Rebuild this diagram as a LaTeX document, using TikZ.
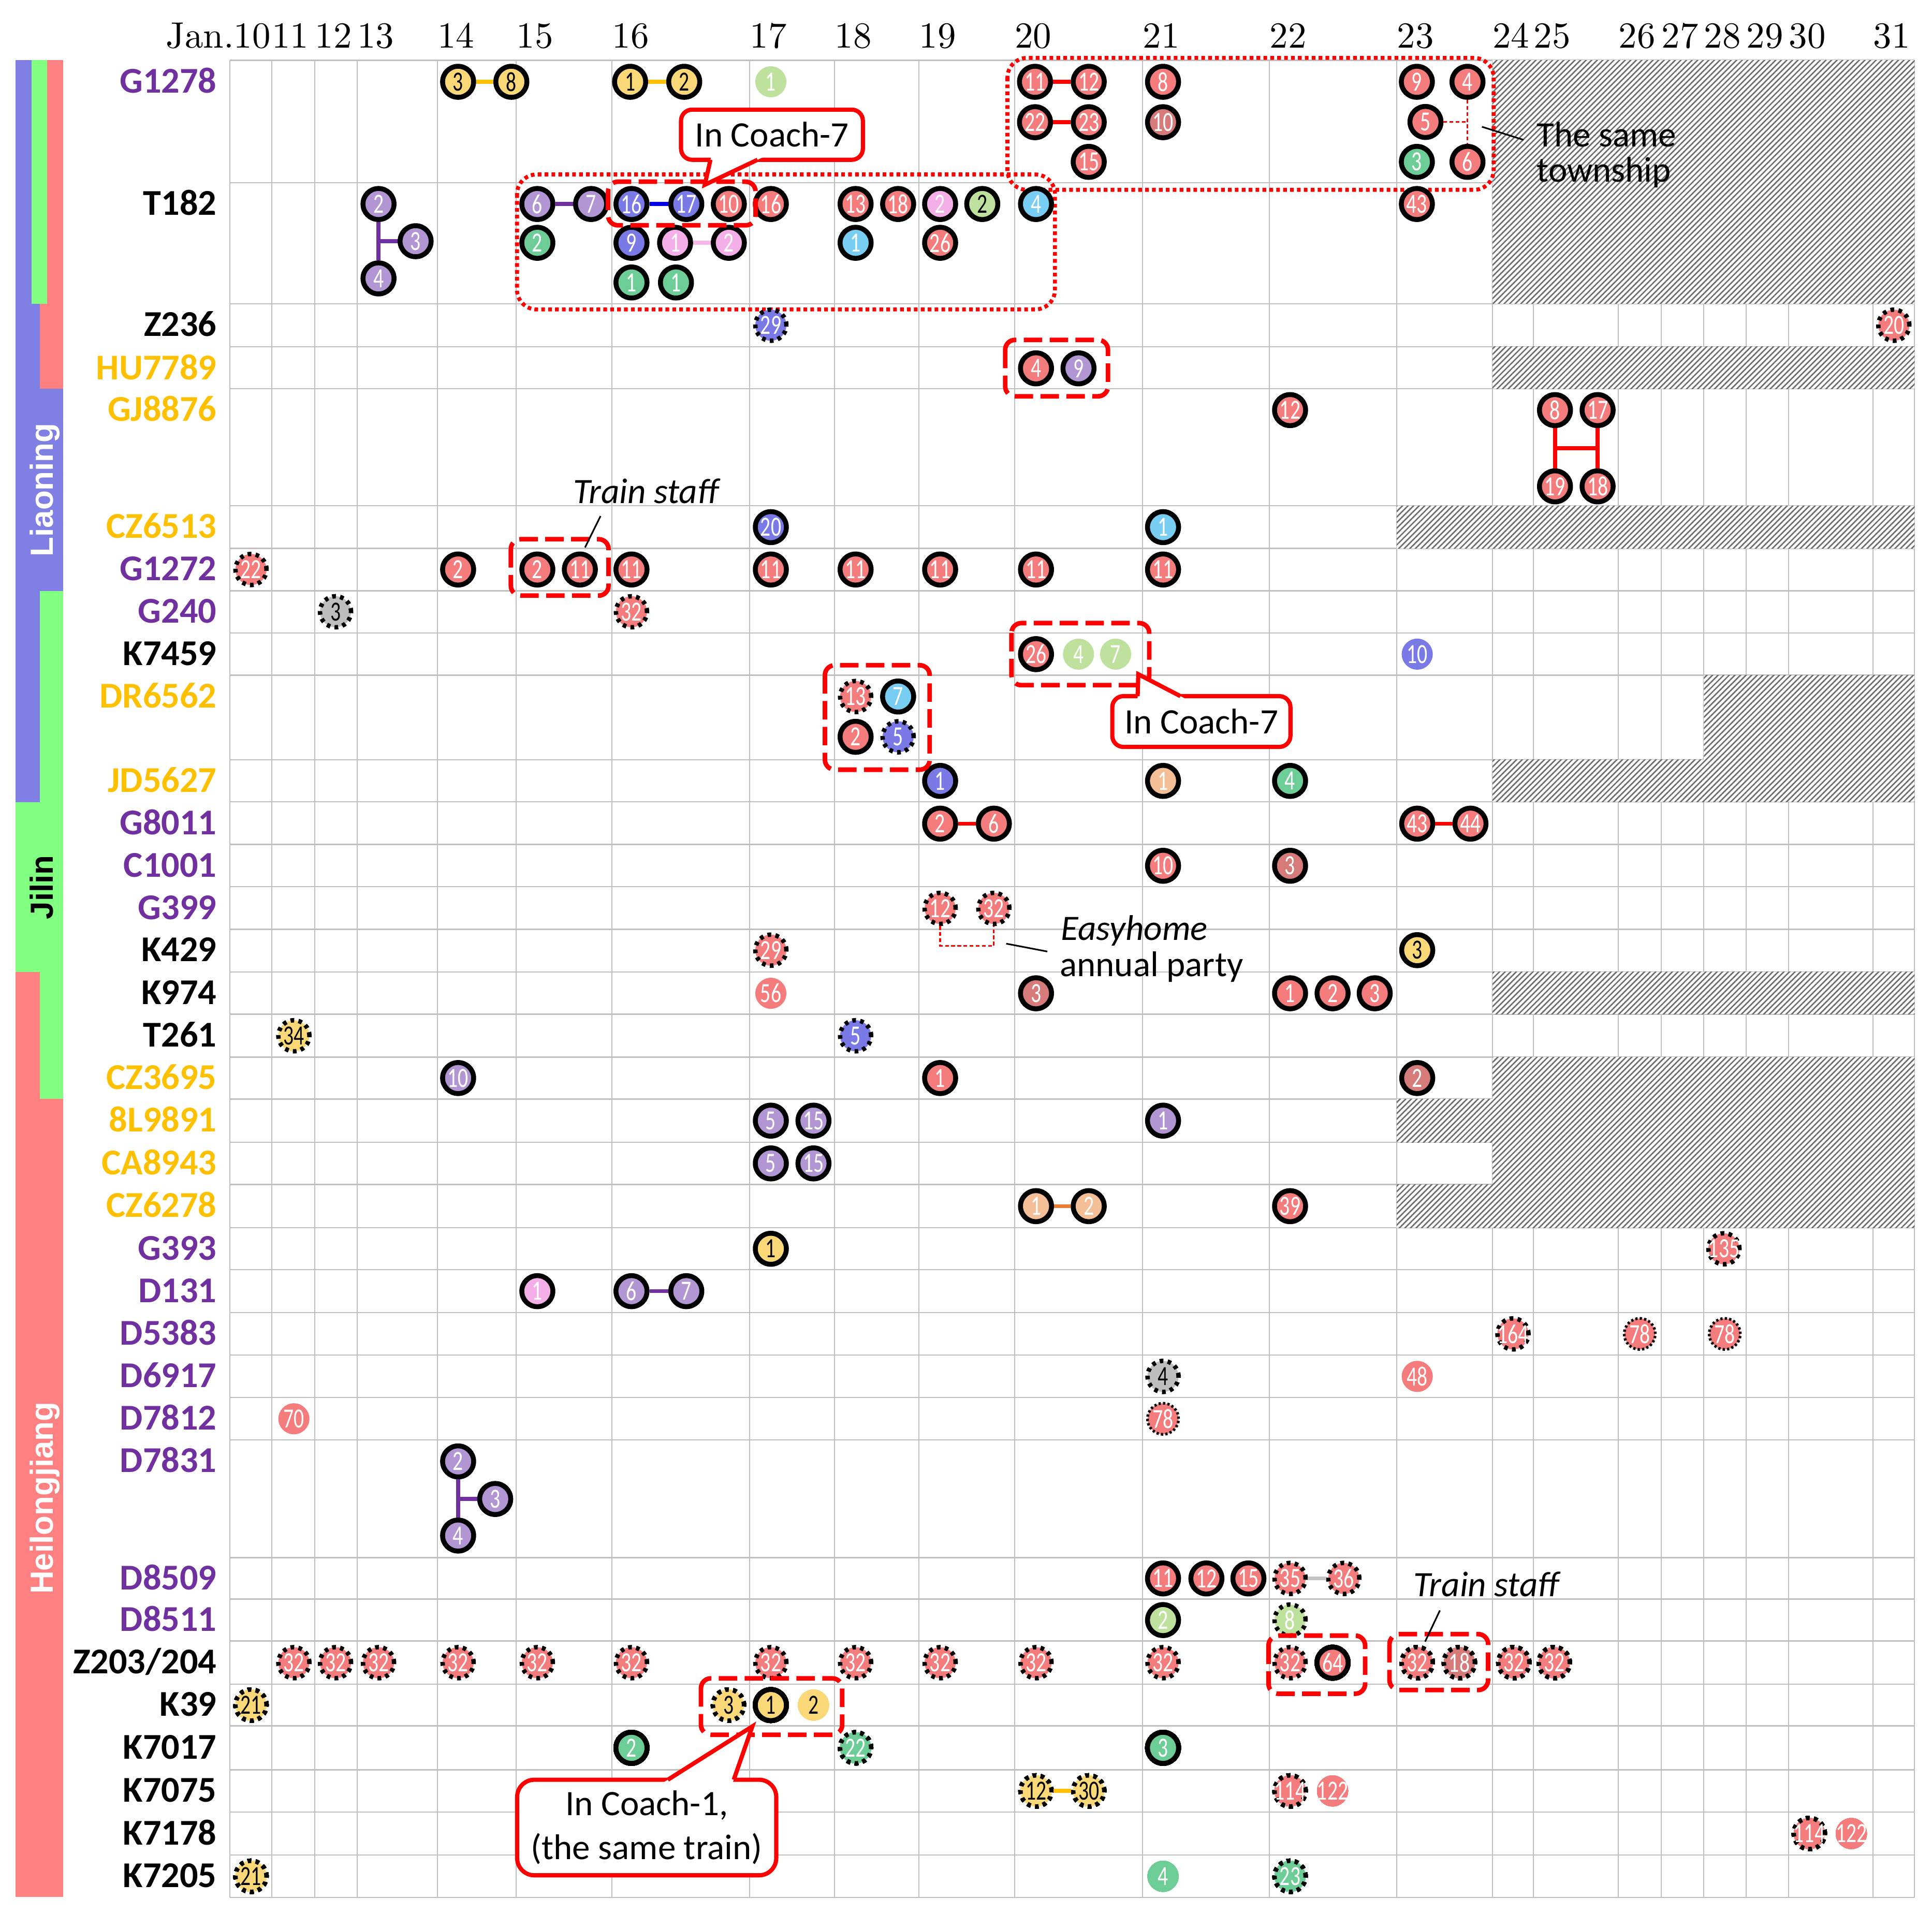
\documentclass[tikz,border=0pt]{standalone}
\usepackage{fontspec}
\usetikzlibrary{calc,patterns.meta}
\newfontfamily\calf{Carlito}
\newfontfamily\ballf{Carlito}[FakeStretch=0.74]
\newfontfamily\provf{Liberation Sans}
\newfontfamily\datef{lmroman10-regular.otf}
\definecolor{cred}{RGB}{244,124,124}
\definecolor{cdred}{RGB}{214,122,122}
\definecolor{cpur}{RGB}{178,150,212}
\definecolor{cblue}{RGB}{122,122,230}
\definecolor{cyel}{RGB}{250,216,120}
\definecolor{cgrn}{RGB}{108,205,150}
\definecolor{clgrn}{RGB}{190,226,158}
\definecolor{ccyan}{RGB}{120,205,242}
\definecolor{cpink}{RGB}{245,175,232}
\definecolor{corng}{RGB}{244,190,150}
\definecolor{cgray}{RGB}{190,190,190}
\definecolor{lgold}{RGB}{255,192,0}
\definecolor{lpurp}{RGB}{112,48,160}
\definecolor{lblue}{RGB}{0,0,230}
\definecolor{lpink}{RGB}{250,182,232}
\definecolor{lred}{RGB}{255,0,0}
\definecolor{lorng}{RGB}{237,125,49}
\definecolor{lgray}{RGB}{195,195,195}
\definecolor{barb}{RGB}{128,128,228}
\definecolor{barg}{RGB}{128,255,128}
\definecolor{barr}{RGB}{255,128,128}
\newcommand\bn[1]{\makebox[0pt]{#1}}
\newcommand\Ball[5]{\node[ball,#1] (#2) at (#3,#4) {\bn{#5}};}
\tikzset{
 ball/.style={circle, minimum size=25.2pt, inner sep=0pt, font=\ballf\fontsize{22.5}{23}\selectfont, text=white},
 sb/.style={draw=black, line width=4pt},
 db/.style={draw=black, line width=3.6pt, dash pattern=on 3pt off 3.5pt},
 fb/.style={draw=black, line width=2.2pt, dash pattern=on 1.8pt off 1.8pt},
 cr/.style={fill=cred}, cdr/.style={fill=cdred}, cpu/.style={fill=cpur},
 cbl/.style={fill=cblue}, cye/.style={fill=cyel}, cgr/.style={fill=cgrn},
 clg/.style={fill=clgrn}, ccy/.style={fill=ccyan}, cpk/.style={fill=cpink},
 cor/.style={fill=corng}, cgy/.style={fill=cgray},
 dk/.style={text=black},
 link/.style={line width=3.2pt},
 gridl/.style={black!25, line width=1pt},
 hatchbox/.style={fill=white, postaction={pattern={Lines[angle=45,distance=3.2pt,line width=1.1pt]}, pattern color=black!58}},
 dbox/.style={draw=lred, line width=3.7pt, dash pattern=on 15pt off 6pt, rounded corners=8pt},
 obox/.style={draw=lred, line width=3.2pt, dash pattern=on 3pt off 2.6pt, rounded corners=16pt},
 callout/.style={draw=lred, line width=3.4pt, fill=white, rounded corners=9pt, inner sep=2pt, font=\calf\fontsize{29}{36}\selectfont},
 cline/.style={draw=lred, line width=3.4pt, line join=miter},
 leader/.style={black, line width=1.3pt},
 thinred/.style={lred, line width=1.3pt, dash pattern=on 3pt off 2pt},
 rowlab/.style={font=\calf\bfseries\fontsize{29.5}{30}\selectfont, inner sep=0pt, anchor=base east},
 datelab/.style={font=\datef\fontsize{29.8}{31}\selectfont, inner sep=0pt, anchor=base west},
 note/.style={font=\calf\fontsize{29}{30}\selectfont, inner sep=0pt, anchor=base west},
 inote/.style={font=\calf\itshape\fontsize{29}{30}\selectfont, inner sep=0pt, anchor=base west},
 region/.style={rotate=90, anchor=base, inner sep=0pt, font=\provf\bfseries\fontsize{26}{28}\selectfont}
}
\begin{document}
\begin{tikzpicture}[x=1pt,y=-1pt]
\fill[white] (0,0) rectangle (1568,1553.3);
\useasboundingbox (0,0) rectangle (1568,1553.3);
% province bars
\fill[barb] (12.7,48.9) rectangle (25.5,246.6);
\fill[barg] (25.5,48.9) rectangle (38.2,246.6);
\fill[barr] (38.2,48.9) rectangle (51.4,246.6);
\fill[barb] (12.7,246.6) rectangle (32.4,315.6);
\fill[barr] (32.4,246.6) rectangle (51.4,315.6);
\fill[barb] (12.7,315.6) rectangle (51.4,479.6);
\fill[barb] (12.7,479.6) rectangle (32.4,651.4);
\fill[barg] (32.4,479.6) rectangle (51.4,651.4);
\fill[barg] (12.7,651.4) rectangle (51.4,788.9);
\fill[barr] (12.7,788.9) rectangle (32.4,892.1);
\fill[barg] (32.4,788.9) rectangle (51.4,892.1);
\fill[barr] (12.7,892.1) rectangle (51.4,1539.8);
\node[region, text=white] (rL) at (42.9,397.6) {Liaoning};
\node[region, text=black] (rJ) at (42.9,720.2) {Jilin};
\node[region, text=white] (rH) at (42.9,1216) {Heilongjiang};
% grid
\foreach \gx in {186.5,220.6,255.5,289.9,355,419,496.7,608.4,677.3,745.8,823.5,927.3,1030.3,1133.6,1211.3,1244.5,1313.5,1348.3,1382.8,1417.2,1451.7,1520.2,1553.8}
  \draw[gridl] (\gx,48.9) -- (\gx,1540.3);
\foreach \gy in {48.9,148.2,246.6,281.4,315.6,410.5,445.2,479.6,513.9,548.1,616.7,650.9,685.4,719.8,754.3,788.9,823.2,858.1,892.1,927.3,961.5,996.7,1030.7,1065.5,1100,1134.5,1168.9,1264.4,1298.1,1332.1,1367.2,1400.9,1436.6,1470.9,1505.8,1540.3}
  \draw[gridl] (186.5,\gy) -- (1553.8,\gy);
% hatched areas
\foreach \xa/\ya/\yb in {1211.3/48.9/246.6, 1211.3/281.4/315.6, 1133.6/410.5/445.2, 1382.8/548.1/616.7, 1211.3/616.7/650.9, 1211.3/788.9/823.2, 1211.3/858.1/892.1, 1133.6/892.1/927.3, 1211.3/927.3/961.5, 1133.6/961.5/996.7}
  \path[hatchbox] (\xa,\ya) rectangle (1553.8,\yb);
% dates
\node[datelab, anchor=base east] (hd10) at (219.8,38.9) {Jan.10};
\foreach \dd/\dx in {11/220.6,12/255.5,13/289.9,14/355,15/419,16/496.7,17/608.4,18/677.3,19/745.8,20/823.5,21/927.3,22/1030.3,23/1133.6,24/1211.3,25/1244.5,26/1313.5,27/1348.3,28/1382.8,29/1417.2,30/1451.7,31/1520.2}
  \node[datelab] (hd\dd) at (\dx,38.9) {\dd};
% row labels
\foreach \t/\yy/\c [count=\i] in {G1278/66.4/lpurp, T182/165.6/black, Z236/264/black, HU7789/299/lgold, GJ8876/332.9/lgold, CZ6513/427.9/lgold, G1272/462.3/lpurp, G240/496.6/lpurp, K7459/531/black, DR6562/565.4/lgold, JD5627/633.9/lgold, G8011/668.6/lpurp, C1001/702.8/lpurp, G399/737.4/lpurp, K429/771.3/black, K974/806.3/black, T261/840.8/black, CZ3695/875.1/lgold, 8L9891/909.7/lgold, CA8943/944.4/lgold, CZ6278/979.1/lgold, G393/1013.7/lpurp, D131/1048.1/lpurp, D5383/1082.8/lpurp, D6917/1117.3/lpurp, D7812/1151.7/lpurp, D7831/1186.3/lpurp, D8509/1281.3/lpurp, D8511/1315.1/lpurp, K39/1384.1/black, K7017/1418.8/black, K7075/1453.8/black, K7178/1488.4/black, K7205/1523.1/black}
  \node[rowlab, text=\c] (lb\i) at (176,\yy+9) {\t};
\node[rowlab, text=black] (lbZ) at (176,1358.7) {Z203/204};
% big dotted boxes
\draw[obox] (419.6,141.6) rectangle (856.2,251.2);
\draw[obox] (817.6,47) rectangle (1212.2,154.1);
% G1278
\Ball{sb,cye,dk}{a1}{371.8}{66.4}{3}
\Ball{sb,cye,dk}{a2}{415}{66.4}{8}
\Ball{sb,cye,dk}{a3}{511.4}{66.4}{1}
\Ball{sb,cye,dk}{a4}{555.3}{66.4}{2}
\Ball{clg}{a5}{625.6}{66.4}{1}
\Ball{sb,cr}{a6}{840}{66.4}{11}
\Ball{sb,cr}{a7}{883.6}{66.4}{12}
\Ball{sb,cr}{a8}{840}{99.2}{22}
\Ball{sb,cr}{a9}{883.6}{99.2}{23}
\Ball{sb,cr}{a10}{883.6}{131.4}{15}
\Ball{sb,cr}{a11}{943.9}{66.4}{8}
\Ball{sb,cdr}{a12}{943.9}{99.2}{10}
\Ball{sb,cr}{a13}{1149.9}{66.4}{9}
\Ball{sb,cr}{a14}{1191}{66.4}{4}
\Ball{sb,cr}{a15}{1156.9}{99}{5}
\Ball{sb,cgr}{a16}{1149.9}{131.4}{3}
\Ball{sb,cr}{a17}{1191}{131.4}{6}
% T182
\Ball{sb,cpu}{b1}{307.2}{165.6}{2}
\Ball{sb,cpu}{b2}{337.3}{195.8}{3}
\Ball{sb,cpu}{b3}{307.2}{226}{4}
\Ball{sb,cpu}{b4}{436.1}{165.6}{6}
\Ball{sb,cpu}{b5}{479.7}{165.6}{7}
\Ball{sb,cgr}{b6}{436.1}{197.1}{2}
\Ball{sb,cbl}{b7}{512.5}{165.6}{16}
\Ball{sb,cbl}{b8}{557}{165.6}{17}
\Ball{sb,cr}{b9}{591.5}{165.6}{10}
\Ball{sb,cbl}{b10}{512.5}{197.1}{9}
\Ball{sb,cpk}{b11}{547.9}{197.1}{1}
\Ball{sb,cpk}{b12}{591.5}{197.1}{2}
\Ball{sb,cgr}{b13}{512.5}{229.3}{1}
\Ball{sb,cgr}{b14}{548.6}{229.3}{1}
\Ball{sb,cr}{b15}{625.6}{165.6}{16}
\Ball{sb,cr}{b16}{694.4}{165.6}{13}
\Ball{sb,cr}{b17}{728.9}{165.6}{18}
\Ball{sb,ccy}{b18}{694.4}{197.1}{1}
\Ball{sb,cpk}{b19}{763}{165.6}{2}
\Ball{sb,clg,dk}{b20}{797.2}{165.6}{2}
\Ball{sb,cr}{b21}{763}{197.1}{26}
\Ball{sb,ccy}{b22}{840.8}{165.6}{4}
\Ball{sb,cr}{b23}{1149.9}{165.6}{43}
% Z236
\Ball{db,cbl}{c1}{625.6}{264}{29}
\Ball{db,cr}{c2}{1537}{264}{20}
% HU7789
\Ball{sb,cr}{d1}{840.8}{299}{4}
\Ball{sb,cpu}{d2}{875.3}{299}{9}
% GJ8876
\Ball{sb,cr}{e1}{1047}{332.9}{12}
\Ball{sb,cr}{e2}{1262}{332.9}{8}
\Ball{sb,cr}{e3}{1296.6}{332.9}{17}
\Ball{sb,cr}{e4}{1262}{394.8}{19}
\Ball{sb,cr}{e5}{1296.6}{394.8}{18}
% CZ6513
\Ball{sb,cbl}{f1}{625.6}{427.9}{20}
\Ball{sb,ccy}{f2}{943.9}{427.9}{1}
% G1272
\Ball{db,cr}{g1}{203.7}{462.3}{22}
\Ball{sb,cr}{g2}{371.8}{462.3}{2}
\Ball{sb,cr}{g3}{436.1}{462.3}{2}
\Ball{sb,cr}{g4}{470.6}{462.3}{11}
\Ball{sb,cr}{g5}{512.5}{462.3}{11}
\Ball{sb,cr}{g6}{625.6}{462.3}{11}
\Ball{sb,cr}{g7}{694.4}{462.3}{11}
\Ball{sb,cr}{g8}{763}{462.3}{11}
\Ball{sb,cr}{g9}{840.8}{462.3}{11}
\Ball{sb,cr}{g10}{943.9}{462.3}{11}
% G240
\Ball{db,cgy,dk}{h1}{272.3}{496.6}{3}
\Ball{db,cr}{h2}{512.5}{496.6}{32}
% K7459
\Ball{sb,cr}{i1}{840.8}{531}{26}
\Ball{clg}{i2}{875.3}{531}{4}
\Ball{clg}{i3}{905.4}{531}{7}
\Ball{cbl}{i4}{1150.2}{531}{10}
% DR6562
\Ball{db,cr}{j1}{694.4}{565.4}{13}
\Ball{sb,ccy}{j2}{728.9}{565.4}{7}
\Ball{sb,cr}{j3}{694.4}{598.1}{2}
\Ball{db,cbl}{j4}{728.9}{598.1}{5}
% JD5627
\Ball{sb,cbl}{k1}{763}{633.9}{1}
\Ball{sb,cor}{k2}{943.9}{633.9}{1}
\Ball{sb,cgr}{k3}{1047}{633.9}{4}
% G8011
\Ball{sb,cr}{m1}{763}{668.6}{2}
\Ball{sb,cr}{m2}{806.6}{668.6}{6}
\Ball{sb,cr}{m3}{1150.2}{668.6}{43}
\Ball{sb,cr}{m4}{1193.4}{668.6}{44}
% C1001
\Ball{sb,cr}{n3}{943.9}{702.8}{10}
\Ball{sb,cdr}{n4}{1047}{702.8}{3}
% G399
\Ball{db,cr}{n1}{763}{737.4}{12}
\Ball{db,cr}{n2}{806.6}{737.4}{32}
% K429
\Ball{db,cr}{o1}{625.6}{771.3}{29}
\Ball{sb,cye,dk}{o2}{1150.2}{771.3}{3}
% K974
\Ball{cr}{p1}{625.6}{806.3}{56}
\Ball{sb,cdr}{p2}{840.8}{806.3}{3}
\Ball{sb,cr}{p3}{1047}{806.3}{1}
\Ball{sb,cr}{p4}{1081.5}{806.3}{2}
\Ball{sb,cr}{p5}{1115.7}{806.3}{3}
% T261
\Ball{db,cye,dk}{q1}{238.5}{840.8}{34}
\Ball{db,cbl}{q2}{694.4}{840.8}{5}
% CZ3695
\Ball{sb,cpu}{r1}{371.8}{875.1}{10}
\Ball{sb,cr}{r2}{763}{875.1}{1}
\Ball{sb,cdr}{r3}{1150.2}{875.1}{2}
% 8L9891
\Ball{sb,cpu}{s1}{625.6}{909.7}{5}
\Ball{sb,cpu}{s2}{660.2}{909.7}{15}
\Ball{sb,cpu}{s3}{943.9}{909.7}{1}
% CA8943
\Ball{sb,cpu}{t1}{625.6}{944.4}{5}
\Ball{sb,cpu}{t2}{660.2}{944.4}{15}
% CZ6278
\Ball{sb,cor}{u1}{840.8}{979.1}{1}
\Ball{sb,cor}{u2}{883.6}{979.1}{2}
\Ball{sb,cr}{u3}{1047}{979.1}{39}
% G393
\Ball{sb,cye,dk}{v1}{625.6}{1013.7}{1}
\Ball{db,cr}{v2}{1399.1}{1013.7}{135}
% D131
\Ball{sb,cpk}{w1}{436.1}{1048.1}{1}
\Ball{sb,cpu}{w2}{512.5}{1048.1}{6}
\Ball{sb,cpu}{w3}{557}{1048.1}{7}
% D5383
\Ball{db,cr}{x1}{1227.9}{1082.8}{164}
\Ball{fb,cr}{x2}{1330.8}{1082.8}{78}
\Ball{fb,cr}{x3}{1399.8}{1082.8}{78}
% D6917
\Ball{db,cgy,dk}{y1}{943.9}{1117.3}{4}
\Ball{cr}{y2}{1150.2}{1117.3}{48}
% D7812
\Ball{cr}{z1}{238.5}{1151.7}{70}
\Ball{fb,cr}{z2}{943.9}{1151.7}{78}
% D7831
\Ball{sb,cpu}{aa1}{371.8}{1186.3}{2}
\Ball{sb,cpu}{aa2}{401.9}{1216.8}{3}
\Ball{sb,cpu}{aa3}{371.8}{1246.5}{4}
% D8509
\Ball{sb,cr}{ab1}{943.9}{1281.3}{11}
\Ball{sb,cr}{ab2}{979.1}{1281.3}{12}
\Ball{sb,cr}{ab3}{1013.2}{1281.3}{15}
\Ball{db,cr}{ab4}{1047}{1281.3}{35}
\Ball{db,cr}{ab5}{1090.6}{1281.3}{36}
% D8511
\Ball{sb,clg}{ac1}{943.9}{1315.1}{2}
\Ball{db,clg}{ac2}{1047}{1315.1}{8}
% Z203/204
\foreach \zx [count=\k] in {238.5,272.3,307.2,371.8,436.1,512.5,625.6,694.4,763,840.8,943.9,1047}
  \Ball{db,cr}{ad\k}{\zx}{1349.7}{32}
\Ball{sb,cr}{ad13}{1081.5}{1349.7}{64}
\Ball{db,cr}{ad14}{1150.2}{1349.7}{32}
\Ball{db,cdr}{ad15}{1184.4}{1349.7}{18}
\Ball{db,cr}{ad16}{1228.6}{1349.7}{32}
\Ball{db,cr}{ad17}{1261.4}{1349.7}{32}
% K39
\Ball{db,cye,dk}{ae1}{203.7}{1384.1}{21}
\Ball{db,cye,dk}{ae2}{591.2}{1384.1}{3}
\Ball{sb,cye,dk}{ae3}{625.6}{1384.1}{1}
\Ball{cye,dk}{ae4}{660.2}{1384.1}{2}
% K7017
\Ball{sb,cgr}{af1}{512.5}{1418.8}{2}
\Ball{db,cgr}{af2}{694.4}{1418.8}{22}
\Ball{sb,cgr}{af3}{943.9}{1418.8}{3}
% K7075
\Ball{db,cye,dk}{ag1}{840.8}{1453.8}{12}
\Ball{db,cye,dk}{ag2}{883.6}{1453.8}{30}
\Ball{db,cr}{ag3}{1047}{1453.8}{114}
\Ball{cr}{ag4}{1081.5}{1453.8}{122}
% K7178
\Ball{db,cr}{ah1}{1468.4}{1488.4}{114}
\Ball{cr}{ah2}{1502.5}{1488.4}{122}
% K7205
\Ball{db,cye,dk}{ai1}{203.7}{1523.1}{21}
\Ball{cgr}{ai2}{943.9}{1523.1}{4}
\Ball{db,cgr}{ai3}{1047}{1523.1}{23}
% connectors
\draw[link, lgold] (a1) -- (a2);
\draw[link, lgold] (a3) -- (a4);
\draw[link, lred] (a6) -- (a7);
\draw[link, lred] (a8) -- (a9);
\draw[link, lpurp] (b1) -- (b3);
\draw[link, lpurp] (b2) -- (b2 -| b1);
\draw[link, lpurp] (b4) -- (b5);
\draw[link, lblue] (b7) -- (b8);
\draw[link, lpink] (b11) -- (b12);
\draw[link, lred] (e2) -- (e4);
\draw[link, lred] (e3) -- (e5);
\draw[link, lred] ($(e2)!0.5!(e4)$) -- ($(e3)!0.5!(e5)$);
\draw[link, lred] (m1) -- (m2);
\draw[link, lred] (m3) -- (m4);
\draw[link, lorng] (u1) -- (u2);
\draw[link, lpurp] (w2) -- (w3);
\draw[link, lpurp] (aa1) -- (aa3);
\draw[link, lpurp] (aa2) -- (aa2 -| aa1);
\draw[link, lgray] (ab4) -- (ab5);
\draw[link, lgold] (ag1) -- (ag2);
\draw[thinred] (a14) -- (a17);
\draw[thinred] (a15) -- (a15 -| a14);
\draw[thinred] (n1.south) -- ++(0,16) -| (n2.south);
% dashed boxes
\draw[dbox] (493.5,147.5) rectangle (613.2,182.9);
\draw[dbox] (815.8,275.9) rectangle (899.2,321.7);
\draw[dbox] (414.6,437.7) rectangle (493.9,483.5);
\draw[dbox] (820.9,505.8) rectangle (932.7,556.2);
\draw[dbox] (669.5,540) rectangle (754.5,624.8);
\draw[dbox] (568.9,1362.4) rectangle (683.5,1408.2);
\draw[dbox] (1029.5,1327.7) rectangle (1107.9,1374.9);
\draw[dbox] (1127.7,1326.5) rectangle (1207.7,1371.9);
% callouts
\node[callout, minimum width=147.6pt, minimum height=40.7pt] (co1) at (626.5,109.35) {In Coach-7};
\coordinate (co1tip) at (572,150);
\fill[white] (577.4,126.3) -- (co1tip) -- (622,126.3) -- cycle;
\draw[cline] (576.6,129.7) -- (co1tip) -- (614.8,129.7);
\node[callout, minimum width=144.6pt, minimum height=41.2pt] (co2) at (975,585.7) {In Coach-7};
\coordinate (co2tip) at (923.8,547.3);
\fill[white] (923.2,568.5) -- (co2tip) -- (964.5,568.5) -- cycle;
\draw[cline] (923.3,565.1) -- (co2tip) -- (958,565.1);
\node[callout, rounded corners=14pt, align=center, minimum width=210.3pt, minimum height=77.6pt] (co3) at (524.85,1483.5) {In Coach-1,\\(the same train)};
\coordinate (co3tip) at (610.6,1401.4);
\fill[white] (536.6,1448.1) -- (co3tip) -- (594.3,1448.1) -- cycle;
\draw[cline] (542,1444.7) -- (co3tip) -- (595.5,1444.7);
% notes
\node[note] (tw1) at (1247,119) {The same};
\node[note] (tw2) at (1247,147.5) {township};
\coordinate (twA) at (1202.7,102.9);
\coordinate (twB) at (1236.4,113.5);
\draw[leader] (twA) -- (twB);
\node[inote] (st1) at (465,408.4) {Train staff};
\coordinate (st1A) at (487.4,418.9);
\coordinate (st1B) at (474.8,444.4);
\draw[leader] (st1A) -- (st1B);
\node[inote] (st2) at (1147,1296) {Train staff};
\coordinate (st2A) at (1168.6,1307.3);
\coordinate (st2B) at (1156.6,1332.6);
\draw[leader] (st2A) -- (st2B);
\node[inote] (eh1) at (861,763) {Easyhome};
\node[note] (eh2) at (860,792.7) {annual party};
\coordinate (ehA) at (816.6,766);
\coordinate (ehB) at (850,772.4);
\draw[leader] (ehA) -- (ehB);
\end{tikzpicture}
\end{document}
